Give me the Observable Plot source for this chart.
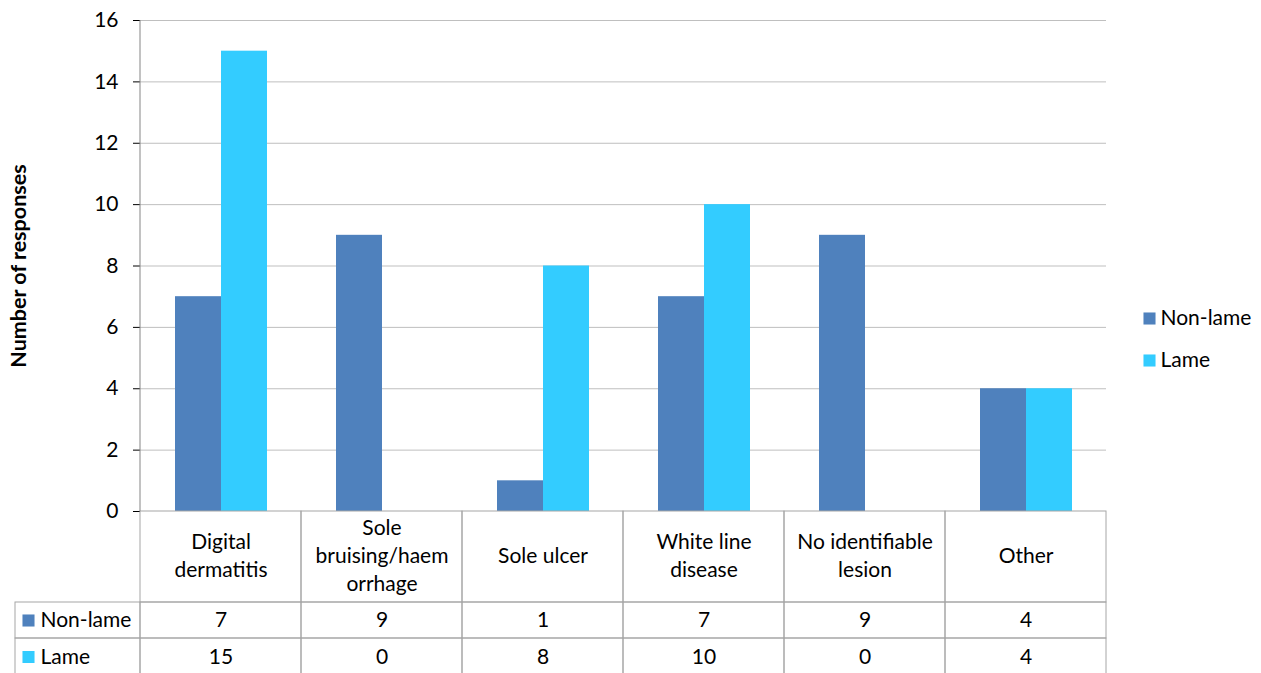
<!DOCTYPE html>
<html>
<head>
<meta charset="utf-8">
<script src="https://cdn.jsdelivr.net/npm/d3@7"></script>
<script src="https://cdn.jsdelivr.net/npm/@observablehq/plot@0.6"></script>
<style>
  html, body { margin: 0; padding: 0; background: #fff; }
  #chart { position: relative; width: 1261px; height: 673px; overflow: hidden; }
  g[aria-label="y-axis tick"] { stroke: #868686; }
  g[aria-label="y-axis label"] text { font-weight: bold; font-size: 21.5px; }
</style>
</head>
<body>
<div id="chart"></div>
<script>
// ---- data ----
const categories = ["Digital dermatitis", "Sole bruising/haemorrhage", "Sole ulcer", "White line disease", "No identifiable lesion", "Other"];
const categoryLabels = ["Digital\ndermatitis", "Sole\nbruising/haem\norrhage", "Sole ulcer", "White line\ndisease", "No identifiable\nlesion", "Other"];
const series = ["Non-lame", "Lame"];
const nonLame = [7, 9, 1, 7, 9, 4];
const lame = [15, 0, 8, 10, 0, 4];
const yTicks = [0, 2, 4, 6, 8, 10, 12, 14, 16];
const yLabel = "Number of responses";

const colors = ["#4f81bd", "#33ccff"];
const seriesValues = {"Non-lame": nonLame, "Lame": lame};

const data = categories.flatMap((c, i) => series.map(s => ({cat: c, series: s, value: seriesValues[s][i]})));

// ---- layout ----
const W = 1261, H = 673, mL = 140, mR = 155, mT = 20, mB = 162;
const bw = (W - mL - mR) / categories.length;
const unit = (H - mT - mB) / 16;
const below = px => -px / unit;            // pixels below the baseline -> y units
const fromTop = px => (H - mB - px) / unit; // absolute pixel -> y units
const rows = [
  {key: "header", top: 0, bottom: 91},
  {key: "Non-lame", top: 91, bottom: 127},
  {key: "Lame", top: 127, bottom: 164}
];
const rowCenter = k => { const r = rows.find(r => r.key === k); return below((r.top + r.bottom) / 2); };
const cells = categories.flatMap(c => rows.map(r => ({cat: c, ...r})));
const leftRows = rows.filter(r => r.key !== "header");
const legendY = {"Non-lame": fromTop(318), "Lame": fromTop(360)};
const border = "#a6a6a6";

const plot = Plot.plot({
  width: W, height: H,
  marginLeft: mL, marginRight: mR, marginTop: mT, marginBottom: mB,
  style: {fontFamily: "Lato, sans-serif", fontSize: "21px", color: "#000", overflow: "visible"},
  fx: {domain: categories, padding: 0, axis: null},
  x: {domain: series, paddingInner: 0, paddingOuter: 0.75, axis: null},
  y: {domain: [0, 16], ticks: yTicks, tickSize: 7, tickPadding: 15, label: yLabel, labelAnchor: "center", labelOffset: 130, labelArrow: false},
  color: {domain: series, range: colors},
  marks: [
    Plot.ruleY(yTicks.filter(t => t > 0), {stroke: "#bfbfbf", strokeWidth: 1}),
    Plot.barY(data, {fx: "cat", x: "series", y: "value", fill: "series"}),
    // table cells
    Plot.rect(cells, {fx: "cat", y1: d => below(d.top), y2: d => below(d.bottom), fill: "none", stroke: border}),
    Plot.rect(leftRows, {fx: () => categories[0], y1: d => below(d.top), y2: d => below(d.bottom), insetLeft: -(mL - 15), insetRight: bw, fill: "none", stroke: border}),
    // y axis line
    Plot.rect([0], {fx: () => categories[0], y1: 0, y2: 16, insetLeft: -0.5, insetRight: bw - 0.5, fill: "#868686"}),
    // category labels
    Plot.text(categories, {fx: d => d, y: () => below(42.5), text: (d, i) => categoryLabels[i], lineHeight: 1.35}),
    // values
    Plot.text(data, {fx: "cat", y: d => rowCenter(d.series), text: d => String(d.value)}),
    // left column swatches + labels
    Plot.dot(series, {fx: () => categories[0], frameAnchor: "left", dx: -(mL - 28), y: d => rowCenter(d), symbol: "square", r: 6.8, fill: d => d, stroke: null}),
    Plot.text(series, {fx: () => categories[0], frameAnchor: "left", dx: -(mL - 40), y: d => rowCenter(d), text: d => d, textAnchor: "start"}),
    // legend
    Plot.dot(series, {fx: () => categories[categories.length - 1], frameAnchor: "right", dx: 43, y: d => legendY[d], symbol: "square", r: 6.8, fill: d => d, stroke: null}),
    Plot.text(series, {fx: () => categories[categories.length - 1], frameAnchor: "right", dx: 54, y: d => legendY[d], text: d => d, textAnchor: "start"})
  ]
});
document.getElementById("chart").appendChild(plot);
</script>
</body>
</html>
